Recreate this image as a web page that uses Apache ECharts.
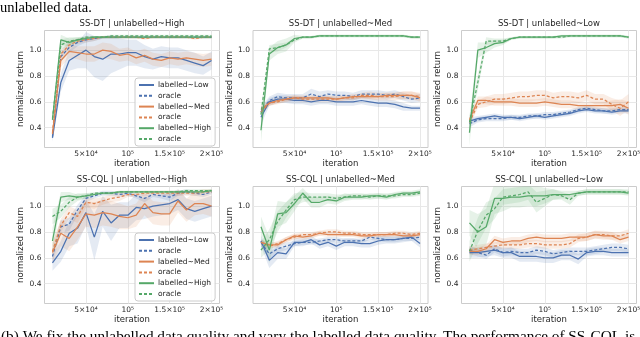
<!DOCTYPE html>
<html><head><meta charset="utf-8">
<script src="https://cdn.jsdelivr.net/npm/echarts@6/dist/echarts.min.js"></script>
<style>html,body{margin:0;padding:0;background:#fff}#c{width:640px;height:337px}</style>
</head><body><div id="c"></div><script>
// ---------- shared axis data ----------
const iterations = [10000,20000,30000,40000,50000,60000,70000,80000,90000,100000,110000,120000,130000,140000,150000,160000,170000,180000,190000,200000];
const xTickValues = [50000,100000,150000,200000];
const xTickLabels = ['5×10⁴','10⁵','1.5×10⁵','2×10⁵'];
const yTickValues = [0.4,0.6,0.8,1.0];
const titles = ['SS-DT | unlabelled~High','SS-DT | unlabelled~Med','SS-DT | unlabelled~Low','SS-CQL | unlabelled~High','SS-CQL | unlabelled~Med','SS-CQL | unlabelled~Low'];
const seriesNames = ['labelled~Low','oracle~Low','labelled~Med','oracle~Med','labelled~High','oracle~High'];

// ---------- panel 1: SS-DT | unlabelled~High ----------
const p1_low   = [0.32,0.75,0.92,0.96,1.00,0.95,0.93,0.97,0.97,0.98,0.98,0.95,0.93,0.95,0.94,0.94,0.92,0.90,0.88,0.92];
const p1_lowO  = [0.33,0.95,1.02,1.06,1.08,1.09,1.10,1.10,1.10,1.10,1.10,1.10,1.10,1.10,1.10,1.10,1.10,1.10,1.10,1.10];
const p1_med   = [0.35,0.92,0.99,0.98,0.97,0.97,1.00,0.99,0.96,0.97,0.94,0.96,0.93,0.92,0.94,0.93,0.94,0.93,0.92,0.93];
const p1_medO  = [0.36,0.97,1.04,1.07,1.08,1.09,1.10,1.10,1.10,1.10,1.10,1.09,1.10,1.10,1.10,1.10,1.10,1.09,1.10,1.10];
const p1_high  = [0.46,1.08,1.06,1.08,1.09,1.10,1.10,1.10,1.10,1.10,1.10,1.10,1.10,1.10,1.10,1.10,1.10,1.10,1.10,1.10];
const p1_highO = [0.47,1.04,1.07,1.08,1.10,1.10,1.10,1.11,1.11,1.11,1.11,1.11,1.11,1.11,1.11,1.11,1.11,1.11,1.11,1.11];
const p1_lowSd   = [0.03,0.07,0.08,0.10,0.14,0.16,0.17,0.15,0.12,0.10,0.10,0.09,0.08,0.08,0.08,0.08,0.08,0.08,0.07,0.07];
const p1_lowOSd  = [0.02,0.04,0.04,0.03,0.02,0.02,0.01,0.01,0.01,0.01,0.01,0.01,0.01,0.01,0.01,0.01,0.01,0.01,0.01,0.01];
const p1_medSd   = [0.03,0.05,0.05,0.05,0.06,0.06,0.06,0.06,0.05,0.05,0.05,0.05,0.05,0.05,0.05,0.05,0.05,0.05,0.05,0.05];
const p1_medOSd  = [0.02,0.03,0.03,0.02,0.02,0.02,0.01,0.01,0.01,0.01,0.01,0.01,0.01,0.01,0.01,0.01,0.01,0.01,0.01,0.01];
const p1_highSd  = [0.03,0.04,0.03,0.02,0.01,0.01,0.01,0.01,0.01,0.01,0.01,0.01,0.01,0.01,0.01,0.01,0.01,0.01,0.01,0.01];
const p1_highOSd = [0.02,0.04,0.03,0.02,0.01,0.01,0.01,0.01,0.01,0.01,0.01,0.01,0.01,0.01,0.01,0.01,0.01,0.01,0.01,0.01];

// ---------- panel 2: SS-DT | unlabelled~Med ----------
const p2_low   = [0.48,0.60,0.62,0.62,0.61,0.61,0.60,0.61,0.61,0.60,0.60,0.60,0.61,0.60,0.59,0.59,0.58,0.56,0.55,0.55];
const p2_lowO  = [0.52,0.61,0.64,0.63,0.63,0.63,0.66,0.64,0.66,0.65,0.65,0.64,0.66,0.66,0.66,0.65,0.66,0.64,0.62,0.63];
const p2_med   = [0.54,0.59,0.61,0.62,0.63,0.63,0.63,0.63,0.63,0.62,0.63,0.64,0.64,0.64,0.64,0.65,0.65,0.65,0.65,0.63];
const p2_medO  = [0.52,0.59,0.60,0.62,0.63,0.62,0.62,0.62,0.62,0.62,0.63,0.63,0.65,0.65,0.64,0.64,0.64,0.65,0.65,0.64];
const p2_high  = [0.38,0.97,1.02,1.04,1.09,1.10,1.10,1.11,1.11,1.11,1.11,1.11,1.11,1.11,1.11,1.11,1.11,1.11,1.10,1.10];
const p2_highO = [0.50,1.01,1.02,1.04,1.08,1.10,1.10,1.11,1.11,1.11,1.11,1.11,1.11,1.11,1.11,1.11,1.11,1.11,1.10,1.10];
const p2_lowSd   = [0.06,0.03,0.03,0.03,0.03,0.03,0.03,0.03,0.03,0.03,0.03,0.03,0.03,0.03,0.03,0.03,0.03,0.03,0.02,0.02];
const p2_lowOSd  = [0.04,0.03,0.03,0.03,0.03,0.03,0.04,0.04,0.03,0.03,0.03,0.03,0.03,0.03,0.03,0.03,0.03,0.03,0.03,0.03];
const p2_medSd   = [0.03,0.02,0.02,0.02,0.02,0.02,0.02,0.02,0.02,0.02,0.02,0.02,0.02,0.02,0.02,0.02,0.02,0.03,0.03,0.03];
const p2_medOSd  = [0.03,0.02,0.02,0.02,0.02,0.02,0.02,0.02,0.02,0.02,0.02,0.02,0.02,0.03,0.03,0.03,0.03,0.03,0.03,0.03];
const p2_highSd  = [0.10,0.05,0.05,0.05,0.03,0.01,0.01,0.01,0.01,0.01,0.01,0.01,0.01,0.01,0.01,0.01,0.01,0.01,0.01,0.01];
const p2_highOSd = [0.05,0.03,0.03,0.02,0.01,0.01,0.01,0.01,0.01,0.01,0.01,0.01,0.01,0.01,0.01,0.01,0.01,0.01,0.01,0.01];

// ---------- panel 3: SS-DT | unlabelled~Low ----------
const p3_low   = [0.45,0.47,0.48,0.49,0.48,0.48,0.47,0.48,0.49,0.48,0.49,0.50,0.51,0.53,0.54,0.53,0.53,0.52,0.53,0.53];
const p3_lowO  = [0.43,0.46,0.47,0.47,0.47,0.48,0.48,0.49,0.49,0.50,0.50,0.51,0.52,0.54,0.55,0.54,0.53,0.53,0.54,0.54];
const p3_med   = [0.46,0.61,0.61,0.60,0.60,0.60,0.59,0.59,0.59,0.60,0.59,0.58,0.58,0.57,0.57,0.57,0.57,0.57,0.58,0.55];
const p3_medO  = [0.44,0.58,0.60,0.62,0.62,0.63,0.64,0.64,0.65,0.65,0.63,0.64,0.64,0.63,0.65,0.62,0.62,0.58,0.55,0.60];
const p3_high  = [0.36,1.00,1.02,1.05,1.06,1.09,1.10,1.10,1.10,1.10,1.10,1.11,1.11,1.11,1.11,1.11,1.11,1.11,1.11,1.10];
const p3_highO = [0.44,0.75,1.07,1.07,1.07,1.09,1.10,1.10,1.10,1.10,1.10,1.10,1.11,1.11,1.11,1.11,1.11,1.11,1.11,1.10];
const p3_lowSd   = [0.03,0.02,0.02,0.02,0.02,0.02,0.02,0.02,0.02,0.02,0.02,0.02,0.02,0.02,0.02,0.02,0.02,0.02,0.02,0.02];
const p3_lowOSd  = [0.03,0.02,0.02,0.02,0.02,0.02,0.02,0.02,0.02,0.02,0.02,0.02,0.02,0.02,0.02,0.02,0.02,0.02,0.02,0.02];
const p3_medSd   = [0.03,0.03,0.03,0.03,0.03,0.03,0.03,0.03,0.03,0.03,0.03,0.03,0.03,0.03,0.03,0.03,0.03,0.04,0.04,0.05];
const p3_medOSd  = [0.03,0.03,0.04,0.04,0.04,0.04,0.04,0.04,0.04,0.04,0.04,0.04,0.04,0.04,0.04,0.04,0.04,0.05,0.06,0.06];
const p3_highSd  = [0.10,0.06,0.04,0.03,0.02,0.01,0.01,0.01,0.01,0.01,0.01,0.01,0.01,0.01,0.01,0.01,0.01,0.01,0.01,0.01];
const p3_highOSd = [0.06,0.06,0.03,0.02,0.02,0.01,0.01,0.01,0.01,0.01,0.01,0.01,0.01,0.01,0.01,0.01,0.01,0.01,0.01,0.01];

// ---------- panel 4: SS-CQL | unlabelled~High ----------
const p4_low   = [0.56,0.65,0.79,0.83,0.95,0.76,0.96,0.87,0.93,0.93,0.99,0.98,1.00,1.01,1.02,1.05,0.98,0.96,0.98,1.00];
const p4_lowO  = [0.61,0.84,0.86,0.97,1.06,1.08,1.10,1.10,1.09,1.10,1.08,1.06,1.09,1.08,1.07,1.10,1.11,1.10,1.09,1.11];
const p4_med   = [0.64,0.79,0.75,0.84,0.94,0.93,0.95,0.94,0.92,0.91,0.93,1.02,0.95,0.94,0.94,1.04,0.97,1.02,1.02,1.00];
const p4_medO  = [0.65,0.85,0.95,0.92,1.03,1.02,1.04,1.06,1.07,1.09,1.09,1.10,1.10,1.10,1.10,1.10,1.10,1.10,1.11,1.11];
const p4_high  = [0.73,1.07,1.08,1.07,1.08,1.09,1.10,1.10,1.11,1.11,1.11,1.11,1.11,1.11,1.11,1.11,1.11,1.11,1.11,1.12];
const p4_highO = [0.92,0.96,1.03,1.07,1.08,1.10,1.10,1.10,1.11,1.11,1.11,1.11,1.11,1.11,1.11,1.11,1.12,1.12,1.12,1.12];
const p4_lowSd   = [0.06,0.08,0.10,0.12,0.10,0.18,0.12,0.14,0.10,0.10,0.10,0.08,0.08,0.08,0.08,0.08,0.08,0.08,0.08,0.08];
const p4_lowOSd  = [0.05,0.05,0.05,0.04,0.03,0.02,0.02,0.02,0.02,0.02,0.02,0.03,0.02,0.02,0.03,0.02,0.02,0.02,0.02,0.02];
const p4_medSd   = [0.08,0.10,0.10,0.10,0.10,0.10,0.10,0.10,0.10,0.09,0.09,0.09,0.09,0.09,0.09,0.09,0.09,0.09,0.08,0.08];
const p4_medOSd  = [0.05,0.05,0.05,0.05,0.04,0.04,0.03,0.03,0.03,0.02,0.02,0.02,0.02,0.02,0.02,0.02,0.02,0.02,0.02,0.02];
const p4_highSd  = [0.10,0.04,0.03,0.02,0.02,0.01,0.01,0.01,0.01,0.01,0.01,0.01,0.01,0.01,0.01,0.01,0.01,0.01,0.01,0.01];
const p4_highOSd = [0.06,0.05,0.04,0.03,0.02,0.01,0.01,0.01,0.01,0.01,0.01,0.01,0.01,0.01,0.01,0.01,0.01,0.01,0.01,0.01];

// ---------- panel 5: SS-CQL | unlabelled~Med ----------
const p5_low   = [0.73,0.58,0.64,0.63,0.72,0.72,0.74,0.70,0.72,0.69,0.72,0.72,0.71,0.71,0.73,0.74,0.74,0.75,0.76,0.71];
const p5_lowO  = [0.72,0.63,0.67,0.69,0.71,0.72,0.72,0.73,0.74,0.74,0.73,0.73,0.73,0.76,0.75,0.74,0.74,0.75,0.75,0.76];
const p5_med   = [0.72,0.70,0.70,0.74,0.77,0.76,0.77,0.79,0.78,0.78,0.78,0.78,0.77,0.77,0.78,0.78,0.78,0.77,0.77,0.78];
const p5_medO  = [0.72,0.69,0.71,0.74,0.76,0.78,0.78,0.79,0.80,0.80,0.79,0.79,0.78,0.78,0.78,0.78,0.79,0.79,0.78,0.79];
const p5_high  = [0.84,0.66,0.94,0.95,1.02,1.10,1.03,1.03,1.05,1.04,1.07,1.07,1.07,1.08,1.08,1.07,1.09,1.10,1.10,1.11];
const p5_highO = [0.66,0.74,0.88,0.97,1.05,1.07,1.07,1.07,1.07,1.06,1.07,1.08,1.08,1.07,1.08,1.08,1.08,1.09,1.09,1.10];
const p5_lowSd   = [0.04,0.06,0.05,0.04,0.03,0.03,0.03,0.03,0.03,0.03,0.03,0.03,0.03,0.03,0.03,0.03,0.03,0.03,0.03,0.03];
const p5_lowOSd  = [0.03,0.04,0.03,0.03,0.02,0.02,0.02,0.02,0.02,0.02,0.02,0.02,0.02,0.02,0.02,0.02,0.02,0.02,0.02,0.02];
const p5_medSd   = [0.02,0.02,0.02,0.02,0.02,0.02,0.02,0.02,0.02,0.02,0.02,0.02,0.02,0.02,0.02,0.02,0.02,0.02,0.02,0.02];
const p5_medOSd  = [0.02,0.02,0.02,0.02,0.02,0.02,0.02,0.02,0.02,0.02,0.02,0.02,0.02,0.02,0.02,0.02,0.02,0.02,0.02,0.02];
const p5_highSd  = [0.08,0.10,0.10,0.08,0.06,0.04,0.04,0.04,0.03,0.03,0.03,0.02,0.02,0.02,0.02,0.02,0.02,0.02,0.02,0.02];
const p5_highOSd = [0.06,0.08,0.08,0.06,0.05,0.04,0.03,0.03,0.03,0.03,0.02,0.02,0.02,0.02,0.02,0.02,0.02,0.02,0.02,0.02];

// ---------- panel 6: SS-CQL | unlabelled~Low ----------
const p6_low   = [0.64,0.64,0.65,0.66,0.64,0.64,0.61,0.61,0.61,0.60,0.60,0.62,0.62,0.59,0.64,0.65,0.65,0.64,0.64,0.64];
const p6_lowO  = [0.66,0.64,0.62,0.67,0.64,0.65,0.64,0.64,0.66,0.65,0.63,0.64,0.65,0.65,0.65,0.66,0.67,0.68,0.68,0.67];
const p6_med   = [0.65,0.65,0.67,0.74,0.72,0.73,0.73,0.75,0.76,0.75,0.75,0.75,0.76,0.76,0.76,0.78,0.77,0.77,0.74,0.76];
const p6_medO  = [0.66,0.67,0.68,0.69,0.70,0.70,0.70,0.71,0.71,0.70,0.70,0.70,0.71,0.75,0.76,0.78,0.78,0.77,0.77,0.79];
const p6_high  = [0.87,0.80,0.84,1.06,1.06,1.07,1.07,1.08,1.08,1.08,1.09,1.09,1.09,1.10,1.11,1.11,1.11,1.11,1.11,1.10];
const p6_highO = [0.65,0.81,0.93,0.98,1.07,1.08,1.09,1.11,1.03,1.06,1.09,1.08,1.05,1.10,1.11,1.11,1.11,1.11,1.11,1.11];
const p6_lowSd   = [0.04,0.04,0.04,0.04,0.04,0.04,0.04,0.04,0.04,0.04,0.04,0.04,0.04,0.04,0.03,0.03,0.03,0.03,0.03,0.03];
const p6_lowOSd  = [0.03,0.03,0.03,0.03,0.03,0.03,0.03,0.03,0.03,0.03,0.03,0.03,0.03,0.03,0.03,0.03,0.03,0.03,0.03,0.03];
const p6_medSd   = [0.03,0.03,0.03,0.03,0.03,0.03,0.03,0.03,0.03,0.03,0.03,0.03,0.03,0.03,0.03,0.03,0.03,0.03,0.03,0.03];
const p6_medOSd  = [0.03,0.03,0.03,0.03,0.03,0.03,0.03,0.03,0.03,0.03,0.03,0.03,0.03,0.03,0.03,0.03,0.03,0.03,0.03,0.03];
const p6_highSd  = [0.10,0.14,0.14,0.12,0.10,0.08,0.08,0.08,0.08,0.06,0.04,0.03,0.03,0.02,0.02,0.02,0.02,0.02,0.02,0.02];
const p6_highOSd = [0.08,0.10,0.10,0.08,0.06,0.06,0.06,0.06,0.08,0.06,0.04,0.03,0.04,0.02,0.02,0.02,0.02,0.02,0.02,0.02];

const panels = [
  {means:[p1_low,p1_lowO,p1_med,p1_medO,p1_high,p1_highO], sds:[p1_lowSd,p1_lowOSd,p1_medSd,p1_medOSd,p1_highSd,p1_highOSd]},
  {means:[p2_low,p2_lowO,p2_med,p2_medO,p2_high,p2_highO], sds:[p2_lowSd,p2_lowOSd,p2_medSd,p2_medOSd,p2_highSd,p2_highOSd]},
  {means:[p3_low,p3_lowO,p3_med,p3_medO,p3_high,p3_highO], sds:[p3_lowSd,p3_lowOSd,p3_medSd,p3_medOSd,p3_highSd,p3_highOSd]},
  {means:[p4_low,p4_lowO,p4_med,p4_medO,p4_high,p4_highO], sds:[p4_lowSd,p4_lowOSd,p4_medSd,p4_medOSd,p4_highSd,p4_highOSd]},
  {means:[p5_low,p5_lowO,p5_med,p5_medO,p5_high,p5_highO], sds:[p5_lowSd,p5_lowOSd,p5_medSd,p5_medOSd,p5_highSd,p5_highOSd]},
  {means:[p6_low,p6_lowO,p6_med,p6_medO,p6_high,p6_highO], sds:[p6_lowSd,p6_lowOSd,p6_medSd,p6_medOSd,p6_highSd,p6_highOSd]}
];

// ---------- styling / layout ----------
const colors = ['#4c72b0','#4c72b0','#dd8452','#dd8452','#55a868','#55a868'];
const bandFill = ['rgba(76,114,176,0.15)','rgba(76,114,176,0.15)','rgba(221,132,82,0.15)','rgba(221,132,82,0.15)','rgba(85,168,104,0.15)','rgba(85,168,104,0.15)'];
const dashed = [false,true,false,true,false,true];
const colLeft = [44.5, 253, 461.5];
const rowTop = [30.5, 186.5];
const gw = 175, gh = 117;
const TXT = '#262626';
const FONT = 'DejaVu Sans';

function bandRenderer(fill) {
  return function (params, api) {
    if (params.dataIndex !== 0) return null;
    const n = params.dataInsideLength || iterations.length;
    const lo = [], up = [];
    for (let k = 0; k < n; k++) {
      lo.push(api.coord([api.value(0, k), api.value(1, k)]));
      up.push(api.coord([api.value(0, k), api.value(2, k)]));
    }
    const cs = params.coordSys;
    return {type: 'polygon', shape: {points: lo.concat(up.reverse())}, style: {fill: fill},
      clipPath: {type: 'rect', shape: {x: cs.x, y: cs.y, width: cs.width, height: cs.height}}};
  };
}

const grids = [], xAxes = [], yAxes = [], titleOpts = [], series = [];
for (let i = 0; i < 6; i++) {
  const c = i % 3, r = Math.floor(i / 3);
  grids.push({left: colLeft[c], top: rowTop[r], width: gw, height: gh, show: true,
    borderColor: '#cccccc', borderWidth: 1, backgroundColor: '#ffffff', containLabel: false, outerBoundsMode: 'none'});
  xAxes.push({gridIndex: i, type: 'value', min: 500, max: 209500,
    name: 'iteration', nameLocation: 'middle', nameGap: 11,
    nameTextStyle: {fontSize: 8.5, color: TXT, fontFamily: FONT},
    axisLine: {show: false}, axisTick: {show: false, customValues: xTickValues},
    axisLabel: {customValues: xTickValues, fontSize: 7.5, color: TXT, fontFamily: FONT, margin: 3,
      formatter: v => xTickLabels[xTickValues.indexOf(v)] || ''},
    splitLine: {show: true, lineStyle: {color: '#e8e8e8', width: 1}}});
  yAxes.push({gridIndex: i, type: 'value', min: 0.246, max: 1.152,
    name: 'normalized return', nameLocation: 'middle', nameGap: 19,
    nameTextStyle: {fontSize: 8.5, color: TXT, fontFamily: FONT},
    axisLine: {show: false}, axisTick: {show: false, customValues: yTickValues},
    axisLabel: {customValues: yTickValues, fontSize: 7.5, color: TXT, fontFamily: FONT, margin: 3,
      formatter: v => v.toFixed(1)},
    splitLine: {show: true, lineStyle: {color: '#e8e8e8', width: 1}}});
  titleOpts.push({text: titles[i], left: colLeft[c] + gw / 2, top: rowTop[r] - 11.5, textAlign: 'center', padding: 0,
    textStyle: {fontSize: 8.5, fontWeight: 'normal', color: TXT, fontFamily: FONT}});

  const P = panels[i];
  for (let j = 0; j < 6; j++) {
    const m = P.means[j], s = P.sds[j];
    series.push({type: 'custom', xAxisIndex: i, yAxisIndex: i, silent: true, z: 1,
      data: iterations.map((x, k) => [x, m[k] - s[k], m[k] + s[k]]),
      encode: {x: 0, y: [1, 2]}, renderItem: bandRenderer(bandFill[j]), animation: false});
  }
  for (let j = 0; j < 6; j++) {
    const m = P.means[j];
    series.push({name: seriesNames[j], type: 'line', xAxisIndex: i, yAxisIndex: i, symbol: 'none',
      color: colors[j],
      lineStyle: {color: colors[j], width: 1.25, type: dashed[j] ? [3, 2] : 'solid'},
      data: iterations.map((x, k) => [x, m[k]]), z: 3, animation: false});
  }
}

function legendAt(top) {
  return {data: seriesNames, orient: 'vertical', left: 135, top: top, itemWidth: 15, itemHeight: 8, itemGap: 2.8,
    padding: [3, 4, 3, 3], backgroundColor: 'rgba(255,255,255,0.85)', borderColor: '#cccccc', borderWidth: 1, borderRadius: 3,
    itemStyle: {opacity: 0},
    textStyle: {fontSize: 7.5, color: TXT, fontFamily: FONT, padding: [0, 0, 0, -1]},
    formatter: n => n.startsWith('oracle') ? 'oracle' : n, selectedMode: false, z: 10};
}

const chart = echarts.init(document.getElementById('c'), null, {renderer: 'canvas'});
chart.setOption({
  animation: false,
  backgroundColor: '#ffffff',
  title: titleOpts,
  grid: grids, xAxis: xAxes, yAxis: yAxes,
  legend: [legendAt(78), legendAt(233)],
  series: series,
  graphic: [
    {type: 'text', style: {x: 0, y: 16, verticalAlign: 'bottom', text: 'unlabelled data.', font: '14.5px "Liberation Serif"', fill: '#000'}},
    {type: 'text', style: {x: 1, y: 344, verticalAlign: 'bottom', text: '(b) We fix the unlabelled data quality and vary the labelled data quality. The performance of SS-CQL is', font: '15.3px "Liberation Serif"', fill: '#000'}}
  ]
});
</script></body></html>
